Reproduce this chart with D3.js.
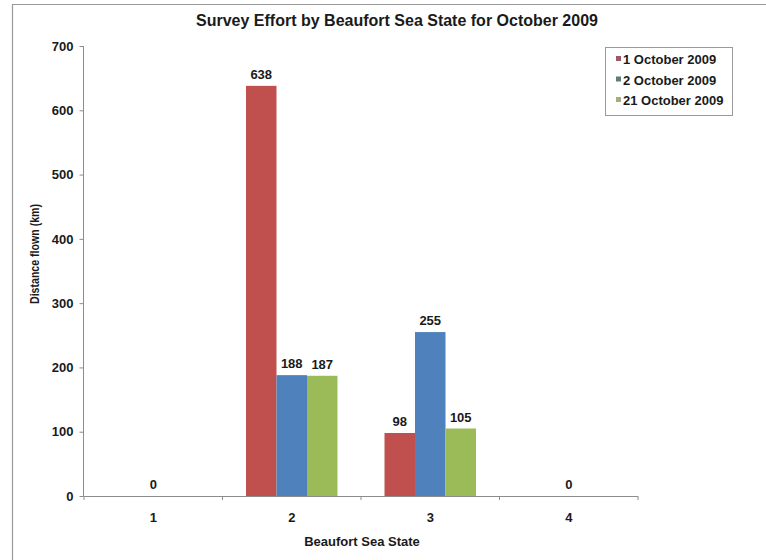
<!DOCTYPE html>
<html>
<head>
<meta charset="utf-8">
<script src="https://cdn.jsdelivr.net/npm/d3@7/dist/d3.min.js"></script>
<style>
  html, body { margin: 0; padding: 0; background: #fff; }
  svg { display: block; font-family: Arial, "Liberation Sans", sans-serif; }
</style>
</head>
<body>
<svg id="chart" width="766" height="560"></svg>
<script>
const categories = ["1", "2", "3", "4"];
const seriesNames = ["1 October 2009", "2 October 2009", "21 October 2009"];
const oct1 = [null, 638, 98, null];
const oct2 = [0, 188, 255, 0];
const oct21 = [null, 187, 105, null];
const yTicks = [0, 100, 200, 300, 400, 500, 600, 700];
const colors = ["#c0504d", "#4f81bd", "#9bbb59"];
const swatchColors = ["#9a5a66", "#5d7f7a", "#a9ad7c"];

const seriesValues = [oct1, oct2, oct21];
const svg = d3.select("#chart");
const textColor = "#1a1a1a";
const axisColor = "#8c8c8c";

// outer frame (left and top edges visible)
svg.append("line").attr("x1", 12.5).attr("x2", 12.5).attr("y1", 4).attr("y2", 560)
  .attr("stroke", "#9a9a9a").attr("stroke-width", 1.2);
svg.append("line").attr("x1", 12).attr("x2", 766).attr("y1", 4.5).attr("y2", 4.5)
  .attr("stroke", "#9a9a9a").attr("stroke-width", 1.2);

const x = d3.scaleBand().domain(categories).range([84, 638]).paddingInner(0).paddingOuter(0);
const barW = 30.5;
const xs = d3.scaleBand().domain(d3.range(seriesNames.length)).range([-barW * 1.5, barW * 1.5]);
const y = d3.scaleLinear().domain([0, 700]).range([496, 46]);

// bars
const rows = [];
categories.forEach((c, i) => {
  seriesValues.forEach((s, j) => {
    if (s[i] !== null) rows.push({ cat: c, si: j, v: s[i] });
  });
});

svg.append("g").selectAll("rect").data(rows.filter(d => d.v > 0)).join("rect")
  .attr("x", d => x(d.cat) + x.bandwidth() / 2 + xs(d.si))
  .attr("y", d => y(d.v))
  .attr("width", xs.bandwidth())
  .attr("height", d => y(0) - y(d.v))
  .attr("fill", d => colors[d.si]);

// axes
const yAxis = svg.append("g").attr("transform", "translate(83.5,0)")
  .call(d3.axisLeft(y).tickValues(yTicks).tickSize(4).tickPadding(6).tickFormat(d3.format("d")));
yAxis.select(".domain").attr("stroke", axisColor).attr("d", `M0,${y(700)}V${y(0)}`);
yAxis.selectAll(".tick line").attr("stroke", axisColor);
yAxis.selectAll(".tick text").attr("fill", textColor).attr("font-size", 13).attr("font-weight", "bold")
  .attr("font-family", "Arial, 'Liberation Sans', sans-serif");

const boundaries = categories.map(c => x(c)).concat([x(categories[categories.length - 1]) + x.bandwidth()]);
const xg = svg.append("g");
xg.append("line").attr("x1", 83.5).attr("x2", 638).attr("y1", y(0) + 0.5).attr("y2", y(0) + 0.5)
  .attr("stroke", axisColor);
xg.selectAll("line.tk").data(boundaries).join("line").attr("class", "tk")
  .attr("x1", d => d).attr("x2", d => d).attr("y1", y(0)).attr("y2", y(0) + 4)
  .attr("stroke", axisColor);
xg.selectAll("text").data(categories).join("text")
  .attr("x", d => x(d) + x.bandwidth() / 2).attr("y", 522)
  .attr("text-anchor", "middle").attr("font-size", 13).attr("font-weight", "bold")
  .attr("fill", textColor).text(d => d);

// data labels
svg.append("g").selectAll("text").data(rows).join("text")
  .attr("x", d => x(d.cat) + x.bandwidth() / 2 + xs(d.si) + xs.bandwidth() / 2)
  .attr("y", d => y(d.v) - 7)
  .attr("text-anchor", "middle").attr("font-size", 13).attr("font-weight", "bold")
  .attr("fill", textColor).text(d => d.v);

// title
svg.append("text").attr("x", 397).attr("y", 26).attr("text-anchor", "middle")
  .attr("font-size", 16).attr("font-weight", "bold").attr("fill", textColor)
  .text("Survey Effort by Beaufort Sea State for October 2009");

// axis titles
svg.append("text").attr("x", 362).attr("y", 546).attr("text-anchor", "middle")
  .attr("font-size", 13).attr("font-weight", "bold").attr("fill", textColor)
  .text("Beaufort Sea State");
svg.append("text").attr("transform", "translate(39,254) rotate(-90)")
  .attr("text-anchor", "middle").attr("font-size", 12).attr("font-weight", "bold")
  .attr("textLength", 100).attr("lengthAdjust", "spacingAndGlyphs")
  .attr("fill", textColor).text("Distance flown (km)");

// legend
const lg = svg.append("g");
lg.append("rect").attr("x", 605.5).attr("y", 47.5).attr("width", 127).attr("height", 68)
  .attr("fill", "#fff").attr("stroke", "#9a9a9a");
const items = lg.selectAll("g").data(seriesNames).join("g")
  .attr("transform", (d, i) => `translate(0,${64 + i * 20.5})`);
items.append("rect").attr("x", 616).attr("y", -8).attr("width", 5).attr("height", 5)
  .attr("fill", (d, i) => swatchColors[i]);
items.append("text").attr("x", 623).attr("y", 0).attr("font-size", 13).attr("font-weight", "bold")
  .attr("fill", textColor).text(d => d);
</script>
</body>
</html>
